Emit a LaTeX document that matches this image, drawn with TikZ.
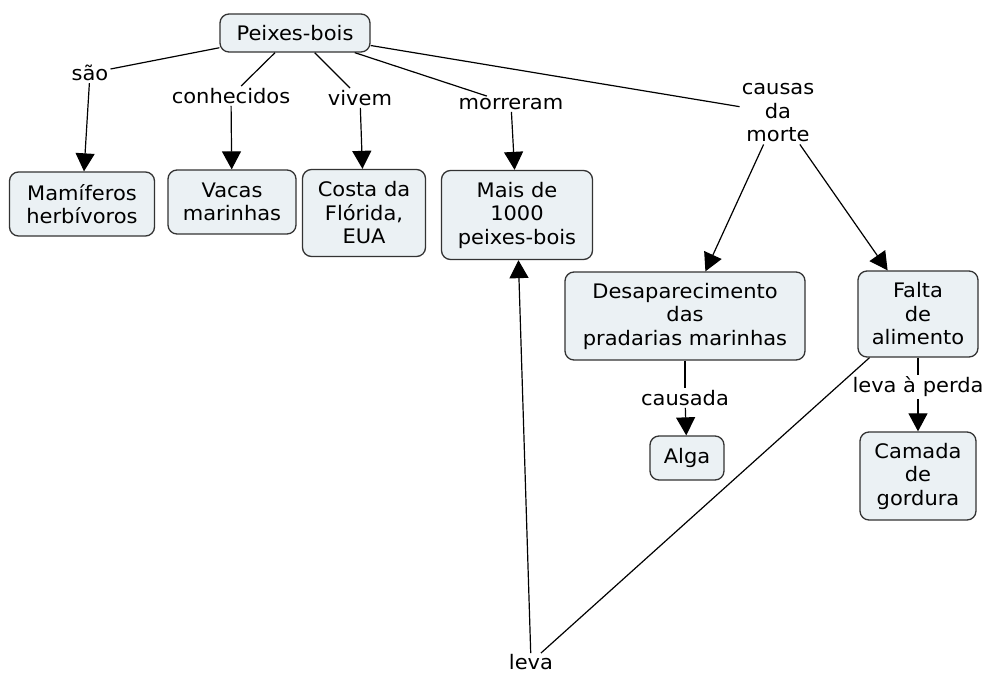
\documentclass[tikz,border=0pt]{standalone}
\usepackage{fontspec}
\setmainfont{DejaVu Sans}[FakeStretch=1.05]
\usetikzlibrary{arrows.meta}
\definecolor{boxfill}{HTML}{EBF1F4}
\newcommand{\mapfont}{\fontsize{20}{23.5}\selectfont}
\tikzset{
  concept/.style={draw=black!80, fill=boxfill, rounded corners=9pt, line width=1.3pt,
    align=center, inner sep=2pt, font=\mapfont},
  linkword/.style={align=center, inner sep=2pt, font=\mapfont},
  link/.style={line width=1.2pt},
  linkarrow/.style={line width=1.2pt, -{Triangle[length=18pt,width=19pt]}}
}
\begin{document}
\begin{tikzpicture}[x=1pt,y=-1pt]
    \useasboundingbox (0,0) rectangle (988,675);
    % conceitos
    \node[concept, minimum width=150, minimum height=38] (peixes) at (295,33) {Peixes-bois};
    \node[concept, minimum width=145, minimum height=64] (mamiferos) at (82,204) {Mamíferos\\herbívoros};
    \node[concept, minimum width=128, minimum height=64] (vacas) at (232,202) {Vacas\\marinhas};
    \node[concept, minimum width=123, minimum height=87] (costa) at (364,213) {Costa da\\Flórida,\\EUA};
    \node[concept, minimum width=151, minimum height=89] (mais) at (517,215) {Mais de\\1000\\peixes-bois};
    \node[concept, minimum width=240, minimum height=88] (desap) at (685,316) {Desaparecimento\\das\\pradarias marinhas};
    \node[concept, minimum width=120, minimum height=86] (falta) at (918,314) {Falta\\de\\alimento};
    \node[concept, minimum width=74, minimum height=44] (alga) at (687,458) {Alga};
    \node[concept, minimum width=116, minimum height=88] (camada) at (918,476) {Camada\\de\\gordura};
    % frases de ligacao
    \node[linkword] (sao) at (90,73) {são};
    \node[linkword] (conhecidos) at (231,96) {conhecidos};
    \node[linkword] (vivem) at (360,98) {vivem};
    \node[linkword] (morreram) at (511,104) {morreram};
    \node[linkword] (causas) at (778,113) {causas\\da\\morte};
    \node[linkword] (causada) at (685,398) {causada};
    \node[linkword] (perda) at (918,387) {leva à perda};
    \node[linkword, inner sep=1pt] (leva) at (531,662) {leva};
    % ligacoes
    \draw[link] (peixes) -- (sao);
    \draw[linkarrow] (sao) -- (mamiferos);
    \draw[link] (peixes) -- (conhecidos);
    \draw[linkarrow] (conhecidos) -- (vacas);
    \draw[link] (peixes) -- (vivem);
    \draw[linkarrow] (vivem) -- (costa);
    \draw[link] (peixes) -- (morreram);
    \draw[linkarrow] (morreram) -- (mais);
    \draw[link] (peixes) -- (causas);
    \draw[linkarrow] (causas) -- (desap);
    \draw[linkarrow] (causas) -- (falta);
    \draw[link] (desap) -- (causada);
    \draw[linkarrow] (causada) -- (alga);
    \draw[link] (falta) -- (perda);
    \draw[linkarrow] (perda) -- (camada);
    \draw[link] (falta) -- (leva);
    \draw[linkarrow] (leva) -- (mais);
\end{tikzpicture}
\end{document}
